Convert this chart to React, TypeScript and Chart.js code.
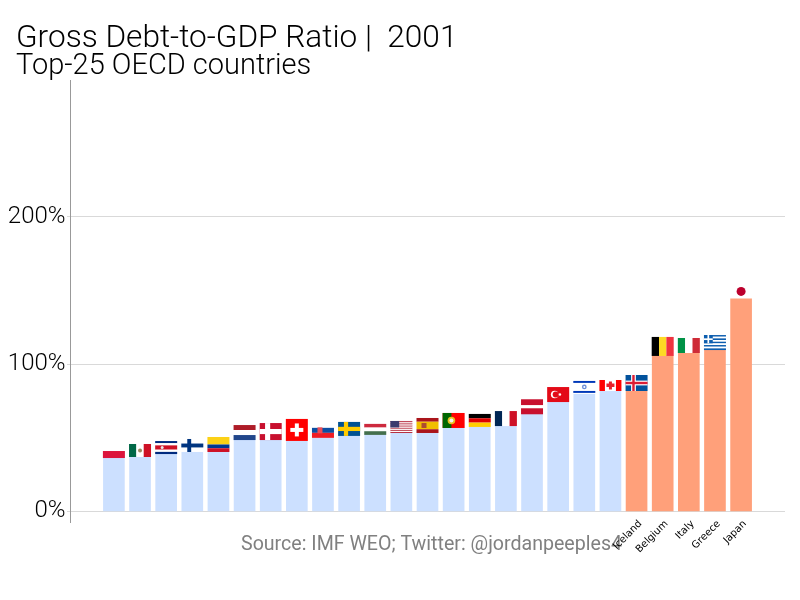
import { useEffect, useRef } from 'react';
import { Chart, registerables } from 'chart.js';

Chart.register(...registerables);

const countries = [
  'Poland', 'Mexico', 'Costa Rica', 'Finland', 'Colombia', 'Netherlands', 'Denmark', 'Switzerland',
  'Slovakia', 'Sweden', 'Hungary', 'United States', 'Spain', 'Portugal', 'Germany', 'France',
  'Latvia', 'Turkey', 'Israel', 'Canada', 'Iceland', 'Belgium', 'Italy', 'Greece', 'Japan',
];
const debt = [
  36.3, 37, 39, 40.4, 40.4, 48.5, 48.5, 47.9, 50, 51.3, 52, 53.3, 53.3,
  56.7, 57.4, 58, 66, 74.3, 79.8, 81.8, 81.8, 105.6, 107.6, 109.6, 144.3,
];
const labelledCountries = ['Iceland', 'Belgium', 'Italy', 'Greece', 'Japan'];
const yTicks = [0, 100, 200];

const FONT = 'Roboto, Inter, sans-serif';

type Ctx = CanvasRenderingContext2D;
type Box = { x: number; y: number; w: number; h: number };

const bandsH = (c: Ctx, b: Box, colors: string[], weights?: number[]) => {
  const ws = weights || colors.map(() => 1);
  const total = ws.reduce((a, v) => a + v, 0);
  let y = b.y;
  colors.forEach((col, i) => {
    const h = (b.h * ws[i]) / total;
    c.fillStyle = col;
    c.fillRect(b.x, y, b.w, h);
    y += h;
  });
};
const bandsV = (c: Ctx, b: Box, colors: string[]) => {
  const w = b.w / colors.length;
  colors.forEach((col, i) => {
    c.fillStyle = col;
    c.fillRect(b.x + i * w, b.y, w, b.h);
  });
};
const dot = (c: Ctx, x: number, y: number, r: number, col: string) => {
  c.fillStyle = col;
  c.beginPath();
  c.arc(x, y, r, 0, Math.PI * 2);
  c.fill();
};
const nordic = (c: Ctx, b: Box, bg: string, cross: string, inner?: string) => {
  c.fillStyle = bg;
  c.fillRect(b.x, b.y, b.w, b.h);
  const vx = b.x + b.w * 0.36;
  const t = b.h * 0.3;
  c.fillStyle = cross;
  c.fillRect(vx - t / 2, b.y, t, b.h);
  c.fillRect(b.x, b.y + b.h / 2 - t / 2, b.w, t);
  if (inner) {
    c.fillStyle = inner;
    c.fillRect(vx - t / 4, b.y, t / 2, b.h);
    c.fillRect(b.x, b.y + b.h / 2 - t / 4, b.w, t / 2);
  }
};

// flag height in px at the fixed 22px width, and how to paint it
const flags: Record<string, { h: number; draw: (c: Ctx, b: Box) => void }> = {
  Poland: { h: 14, draw: (c, b) => bandsH(c, b, ['#ffffff', '#dc143c']) },
  Mexico: {
    h: 13,
    draw: (c, b) => {
      bandsV(c, b, ['#006847', '#ffffff', '#ce1126']);
      dot(c, b.x + b.w / 2, b.y + b.h / 2, 2, '#a08a60');
    },
  },
  'Costa Rica': {
    h: 13,
    draw: (c, b) => {
      bandsH(c, b, ['#002b7f', '#ffffff', '#ce1126', '#ffffff', '#002b7f'], [1, 1, 2, 1, 1]);
      dot(c, b.x + 7, b.y + b.h / 2, 1.5, '#e8e8e8');
    },
  },
  Finland: { h: 13, draw: (c, b) => nordic(c, b, '#ffffff', '#003580') },
  Colombia: { h: 15, draw: (c, b) => bandsH(c, b, ['#fcd116', '#003893', '#ce1126'], [2, 1, 1]) },
  Netherlands: { h: 15, draw: (c, b) => bandsH(c, b, ['#ae1c28', '#ffffff', '#21468b']) },
  Denmark: { h: 17, draw: (c, b) => nordic(c, b, '#c8102e', '#ffffff') },
  Switzerland: {
    h: 22,
    draw: (c, b) => {
      c.fillStyle = '#ff0000';
      c.fillRect(b.x, b.y, b.w, b.h);
      c.fillStyle = '#ffffff';
      c.fillRect(b.x + 9, b.y + 4.5, 4, 13);
      c.fillRect(b.x + 4.5, b.y + 9, 13, 4);
    },
  },
  Slovakia: {
    h: 15,
    draw: (c, b) => {
      bandsH(c, b, ['#ffffff', '#0b4ea2', '#ee1c25']);
      c.fillStyle = '#ee4c55';
      c.fillRect(b.x + 5.5, b.y + 4.5, 5, 6);
    },
  },
  Sweden: { h: 14, draw: (c, b) => nordic(c, b, '#005293', '#fecb00') },
  Hungary: { h: 11, draw: (c, b) => bandsH(c, b, ['#cd2a3e', '#ffffff', '#436f4d']) },
  'United States': {
    h: 12,
    draw: (c, b) => {
      bandsH(c, b, ['#b22234', '#ffffff', '#b22234', '#ffffff', '#b22234', '#ffffff', '#b22234', '#ffffff', '#b22234', '#ffffff', '#b22234', '#ffffff', '#b22234']);
      c.fillStyle = '#3c3b6e';
      c.fillRect(b.x, b.y, b.w * 0.4, b.h * 0.54);
    },
  },
  Spain: {
    h: 15,
    draw: (c, b) => {
      bandsH(c, b, ['#aa151b', '#f1bf00', '#aa151b'], [1, 2, 1]);
      c.fillStyle = '#ad4a30';
      c.fillRect(b.x + 5, b.y + 5, 5, 5);
    },
  },
  Portugal: {
    h: 15,
    draw: (c, b) => {
      c.fillStyle = '#ff0000';
      c.fillRect(b.x, b.y, b.w, b.h);
      c.fillStyle = '#006600';
      c.fillRect(b.x, b.y, b.w * 0.4, b.h);
      dot(c, b.x + b.w * 0.4, b.y + b.h / 2, 3.8, '#e8c020');
      dot(c, b.x + b.w * 0.4, b.y + b.h / 2, 2, '#f4f4f4');
    },
  },
  Germany: { h: 13, draw: (c, b) => bandsH(c, b, ['#000000', '#dd0000', '#ffce00']) },
  France: { h: 15, draw: (c, b) => bandsV(c, b, ['#002654', '#ffffff', '#ce1126']) },
  Latvia: { h: 15, draw: (c, b) => bandsH(c, b, ['#c8102e', '#ffffff', '#c8102e'], [2, 1, 2]) },
  Turkey: {
    h: 15,
    draw: (c, b) => {
      c.fillStyle = '#e30a17';
      c.fillRect(b.x, b.y, b.w, b.h);
      dot(c, b.x + 7.5, b.y + b.h / 2, 3.8, '#ffffff');
      dot(c, b.x + 8.5, b.y + b.h / 2, 3, '#e30a17');
      dot(c, b.x + 12.8, b.y + b.h / 2, 1.2, '#ffffff');
    },
  },
  Israel: {
    h: 14,
    draw: (c, b) => {
      bandsH(c, b, ['#ffffff', '#0038b8', '#ffffff', '#0038b8', '#ffffff'], [1, 2, 8, 2, 1]);
      dot(c, b.x + b.w / 2, b.y + b.h / 2, 2.4, '#6f8fd8');
      dot(c, b.x + b.w / 2, b.y + b.h / 2, 1, '#ffffff');
    },
  },
  Canada: {
    h: 11,
    draw: (c, b) => {
      c.fillStyle = '#ff0000';
      c.fillRect(b.x, b.y, b.w, b.h);
      c.fillStyle = '#ffffff';
      c.fillRect(b.x + b.w / 4, b.y, b.w / 2, b.h);
      // maple leaf, roughly
      c.fillStyle = '#e8202a';
      c.fillRect(b.x + 7, b.y + 3.5, 8, 3.5);
      c.fillRect(b.x + 9.5, b.y + 1.5, 3, 8);
    },
  },
  Iceland: { h: 16, draw: (c, b) => nordic(c, b, '#02529c', '#ffffff', '#dc1e35') },
  Belgium: { h: 19, draw: (c, b) => bandsV(c, b, ['#000000', '#fdda24', '#ef3340']) },
  Italy: { h: 15, draw: (c, b) => bandsV(c, b, ['#009246', '#ffffff', '#ce2b37']) },
  Greece: {
    h: 15,
    draw: (c, b) => {
      bandsH(c, b, ['#0d5eaf', '#ffffff', '#0d5eaf', '#ffffff', '#0d5eaf', '#ffffff', '#0d5eaf', '#ffffff', '#0d5eaf']);
      c.fillStyle = '#0d5eaf';
      c.fillRect(b.x, b.y, b.w * 0.4, b.h * 0.55);
      c.fillStyle = '#ffffff';
      c.fillRect(b.x + 3.5, b.y, 1.7, b.h * 0.55);
      c.fillRect(b.x, b.y + 3.3, b.w * 0.4, 1.7);
    },
  },
  Japan: { h: 15, draw: (c, b) => dot(c, b.x + b.w / 2, b.y + b.h / 2, 4.5, '#bc002d') },
};

const flagsPlugin = {
  id: 'flags',
  afterDatasetsDraw(chart: any) {
    const c = chart.ctx;
    const { x, y } = chart.scales;
    countries.forEach((name, i) => {
      const f = flags[name];
      const bottom = y.getPixelForValue(debt[i]);
      f.draw(c, { x: x.getPixelForValue(i) - 11, y: bottom - f.h, w: 22, h: f.h });
    });
  },
};

const sourcePlugin = {
  id: 'source',
  beforeDraw(chart: any) {
    const c = chart.ctx;
    c.save();
    c.font = `400 19.6px ${FONT}`;
    c.fillStyle = '#808080';
    c.textAlign = 'left';
    c.textBaseline = 'middle';
    c.fillText('Source: IMF WEO; Twitter: @jordanpeeples4', 241, 545);
    c.restore();
  },
};

// scales clip their labels to their own box by default, these labels run past it
const noLabelClip = (s: any) => { s._computeLabelArea = () => undefined; };

export default function App() {
  const canvasRef = useRef<HTMLCanvasElement>(null);

  useEffect(() => {
    if (!canvasRef.current) return;
    const chart = new Chart(canvasRef.current, {
      type: 'bar',
      data: {
        datasets: [{
          data: debt.map((v, i) => ({ x: i, y: v })) as any,
          backgroundColor: countries.map((n) => (labelledCountries.includes(n) ? '#FFA07A' : '#CCE0FF')),
          barThickness: 21,
        }],
      },
      options: {
        responsive: false,
        animation: false,
        layout: { autoPadding: false, padding: { left: 16, right: 15, top: 0, bottom: 0 } },
        plugins: {
          legend: { display: false },
          tooltip: { enabled: false },
          title: {
            display: true,
            text: 'Gross Debt-to-GDP Ratio |  2001',
            align: 'start',
            color: '#000000',
            font: { family: FONT, size: 31.6, weight: '300', lineHeight: 0.85 },
            padding: { top: 26, bottom: 0 },
          },
          subtitle: {
            display: true,
            text: 'Top-25 OECD countries',
            align: 'start',
            color: '#000000',
            font: { family: FONT, size: 29, weight: '300', lineHeight: 0.95 },
            padding: { top: 0, bottom: 0.5 },
          },
        },
        scales: {
          x: {
            type: 'linear',
            offset: false,
            min: -1.68,
            max: 25.68,
            grid: { display: false, drawTicks: false },
            border: { display: false },
            afterFit: (s: any) => { s.height = 78; noLabelClip(s); },
            afterBuildTicks: (s: any) => {
              s.ticks = labelledCountries.map((n) => ({ value: countries.indexOf(n) + 0.15 }));
            },
            ticks: {
              autoSkip: false,
              minRotation: 45,
              maxRotation: 45,
              padding: -4,
              color: '#000000',
              font: { family: 'DejaVu Sans', size: 10 },
              callback: (v: any) => countries[Math.round(Number(v))],
            },
          },
          y: {
            min: -7.13,
            max: 292.3,
            grid: { color: '#D9D9D9', lineWidth: 1, tickLength: 3 },
            border: { display: true, color: '#999999' },
            afterFit: (s: any) => { s.width = 54; noLabelClip(s); },
            afterBuildTicks: (s: any) => { s.ticks = yTicks.map((value) => ({ value })); },
            ticks: {
              padding: 1.5,
              color: '#000000',
              font: { family: FONT, size: 24, weight: '300' },
              callback: (v: any) => `${v}%`,
            },
          },
        },
      },
      plugins: [sourcePlugin, flagsPlugin],
    });
    return () => chart.destroy();
  }, []);

  return (
    <div style={{ position: 'fixed', left: 0, top: 0, width: 800, height: 600, background: '#fff' }}>
      <canvas ref={canvasRef} width={800} height={600} style={{ display: 'block' }}></canvas>
    </div>
  );
}
